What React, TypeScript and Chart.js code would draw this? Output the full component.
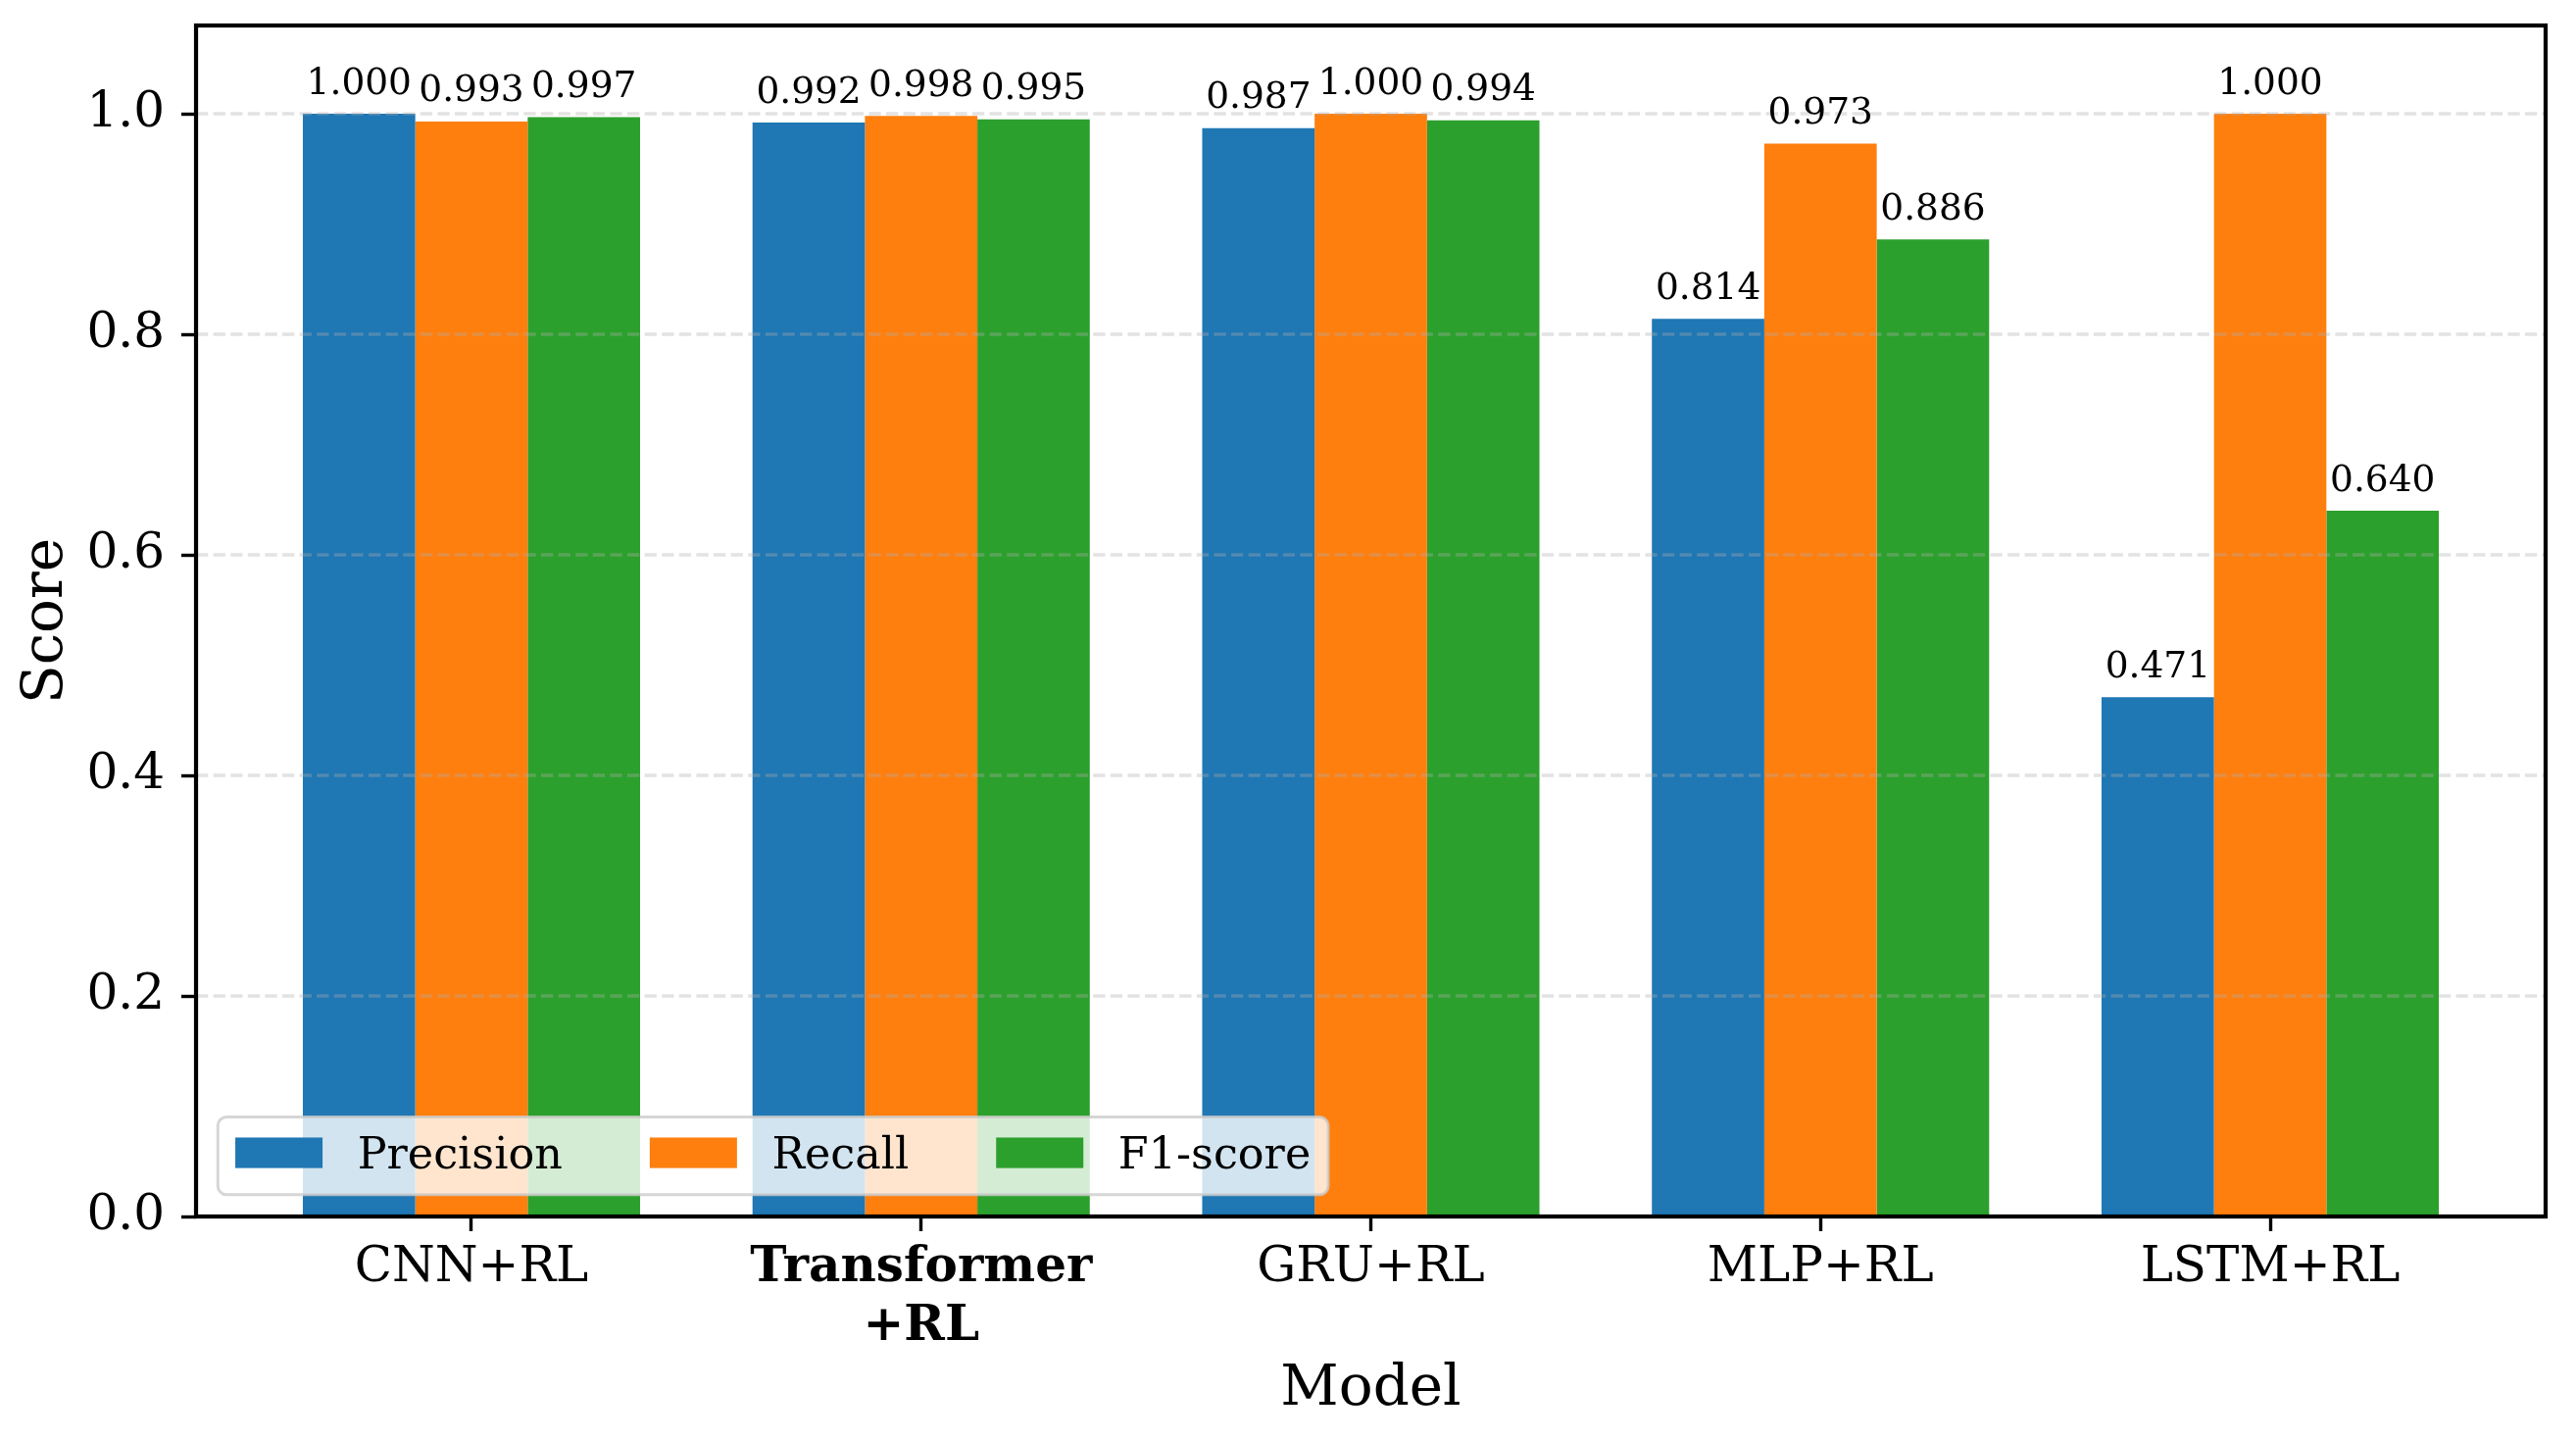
import { useEffect, useRef } from "react";
import { Chart, registerables } from "chart.js";

Chart.register(...registerables);

// Data
const models = ["CNN+RL", "Transformer\n+RL", "GRU+RL", "MLP+RL", "LSTM+RL"];
const precision = [1.0, 0.992, 0.987, 0.814, 0.471];
const recall = [0.993, 0.998, 1.0, 0.973, 1.0];
const f1Score = [0.997, 0.995, 0.994, 0.886, 0.64];
const seriesNames = ["Precision", "Recall", "F1-score"];
const yTicks = [0, 0.2, 0.4, 0.6, 0.8, 1.0];
const highlighted = "Transformer\n+RL";

const COLORS = ["#1f77b4", "#ff7f0e", "#2ca02c"];
const FONT = "'DejaVu Serif', serif";
const GROUP = 0.75; // 3 bars of 0.25 each
const X_PAD = GROUP / 2 + 0.05 * (models.length - 1 + GROUP);

const overlay = {
  id: "overlay",
  afterDatasetsDraw(chart: any) {
    const { ctx, chartArea: a, scales } = chart;
    ctx.save();

    // dashed grid above the bars
    ctx.strokeStyle = "rgba(176,176,176,0.35)";
    ctx.lineWidth = 3.3;
    ctx.setLineDash([12.3, 5.3]);
    for (const t of yTicks) {
      const py = scales.y.getPixelForValue(t);
      ctx.beginPath();
      ctx.moveTo(a.left, py);
      ctx.lineTo(a.right, py);
      ctx.stroke();
    }
    ctx.setLineDash([]);

    // spines
    ctx.strokeStyle = "#000";
    ctx.lineWidth = 4.2;
    ctx.strokeRect(a.left, a.top, a.right - a.left, a.bottom - a.top);

    // value labels
    ctx.fillStyle = "#000";
    ctx.font = `37.5px ${FONT}`;
    ctx.textAlign = "center";
    ctx.textBaseline = "alphabetic";
    chart.data.datasets.forEach((ds: any, i: number) => {
      const meta = chart.getDatasetMeta(i);
      meta.data.forEach((el: any, j: number) => {
        ctx.fillText(ds.data[j].y.toFixed(3), el.x, el.y - 20.5);
      });
    });

    // legend, lower left, 3 columns
    const fs = 44.5;
    ctx.font = `${fs}px ${FONT}`;
    const pad = 0.4 * fs, hl = 2 * fs, htp = 0.8 * fs, cs = 2 * fs, bap = 0.5 * fs;
    const widths = seriesNames.map((n) => ctx.measureText(n).width);
    const w = 2 * pad + widths.reduce((s, tw) => s + hl + htp + tw, 0) + cs * (seriesNames.length - 1);
    const h = 2 * pad + fs * 0.98;
    const lx = a.left + bap;
    const ly = a.bottom - bap - h;
    ctx.beginPath();
    ctx.roundRect(lx, ly, w, h, 0.2 * fs);
    ctx.fillStyle = "rgba(255,255,255,0.8)";
    ctx.fill();
    ctx.strokeStyle = "rgba(204,204,204,0.8)";
    ctx.lineWidth = 3;
    ctx.stroke();
    const cy = ly + h / 2;
    let x = lx + pad;
    ctx.textAlign = "left";
    seriesNames.forEach((n, i) => {
      ctx.fillStyle = COLORS[i];
      ctx.fillRect(x, cy - 0.07 * fs - 0.35 * fs, hl, 0.7 * fs);
      ctx.fillStyle = "#000";
      ctx.fillText(n, x + hl + htp, cy + 0.3 * fs);
      x += hl + htp + widths[i] + cs;
    });

    ctx.restore();
  },
};

export default function App() {
  const canvasRef = useRef<HTMLCanvasElement>(null);
  const chartRef = useRef<Chart | null>(null);

  useEffect(() => {
    if (!canvasRef.current) return;
    if (chartRef.current) chartRef.current.destroy();

    const series = [precision, recall, f1Score];

    chartRef.current = new Chart(canvasRef.current, {
      type: "bar",
      data: {
        datasets: series.map((vals, i) => ({
          label: seriesNames[i],
          data: vals.map((v, j) => ({ x: j, y: v })),
          backgroundColor: COLORS[i],
          borderWidth: 0,
          categoryPercentage: GROUP,
          barPercentage: 1.0,
        })),
      },
      options: {
        animation: false,
        responsive: false,
        devicePixelRatio: 1,
        layout: { padding: { top: 26, right: 31, left: 0, bottom: 0 } },
        plugins: {
          legend: { display: false },
          tooltip: { enabled: false },
        },
        scales: {
          x: {
            type: "linear",
            min: -X_PAD,
            max: models.length - 1 + X_PAD,
            bounds: "data",
            offset: false,
            afterBuildTicks: (s: any) => {
              s.ticks = models.map((_, i) => ({ value: i }));
            },
            afterFit: (s: any) => {
              s.height = 227;
              s.paddingLeft = 0;
              s.paddingRight = 0;
            },
            grid: {
              display: true,
              offset: false,
              drawOnChartArea: false,
              drawTicks: true,
              tickLength: 15,
              tickWidth: 3.4,
              tickColor: "#000",
            },
            border: { display: false },
            ticks: {
              autoSkip: false,
              maxRotation: 0,
              color: "#000",
              padding: 8,
              callback: (_v: any, i: number) => models[i].split("\n"),
              font: (c: any) => ({
                family: FONT,
                size: 50,
                lineHeight: 1.2,
                weight: models[c.index] === highlighted ? "bold" : "normal",
              }),
            },
            title: {
              display: true,
              text: "Model",
              color: "#000",
              font: { family: FONT, size: 58, lineHeight: 1.2 },
              padding: { top: 0, bottom: 15 },
            },
          },
          y: {
            min: 0,
            max: 1.08,
            afterBuildTicks: (s: any) => {
              s.ticks = yTicks.map((v) => ({ value: v }));
            },
            afterFit: (s: any) => {
              s.width = 200;
              s.paddingTop = 0;
              s.paddingBottom = 0;
            },
            grid: {
              display: true,
              drawOnChartArea: false,
              drawTicks: true,
              tickLength: 15,
              tickWidth: 3.4,
              tickColor: "#000",
            },
            border: { display: false },
            ticks: {
              color: "#000",
              padding: 17,
              callback: (v: any) => Number(v).toFixed(1),
              font: { family: FONT, size: 50 },
            },
            title: {
              display: true,
              text: "Score",
              color: "#000",
              font: { family: FONT, size: 58, lineHeight: 1.2 },
              padding: { top: 13, bottom: 0 },
            },
          },
        },
      } as any,
      plugins: [overlay],
    });

    return () => {
      if (chartRef.current) {
        chartRef.current.destroy();
        chartRef.current = null;
      }
    };
  }, []);

  return (
    <div style={{ position: "fixed", left: 0, top: 0, width: 2628, height: 1468, background: "#fff" }}>
      <canvas ref={canvasRef} width={2628} height={1468} />
    </div>
  );
}
